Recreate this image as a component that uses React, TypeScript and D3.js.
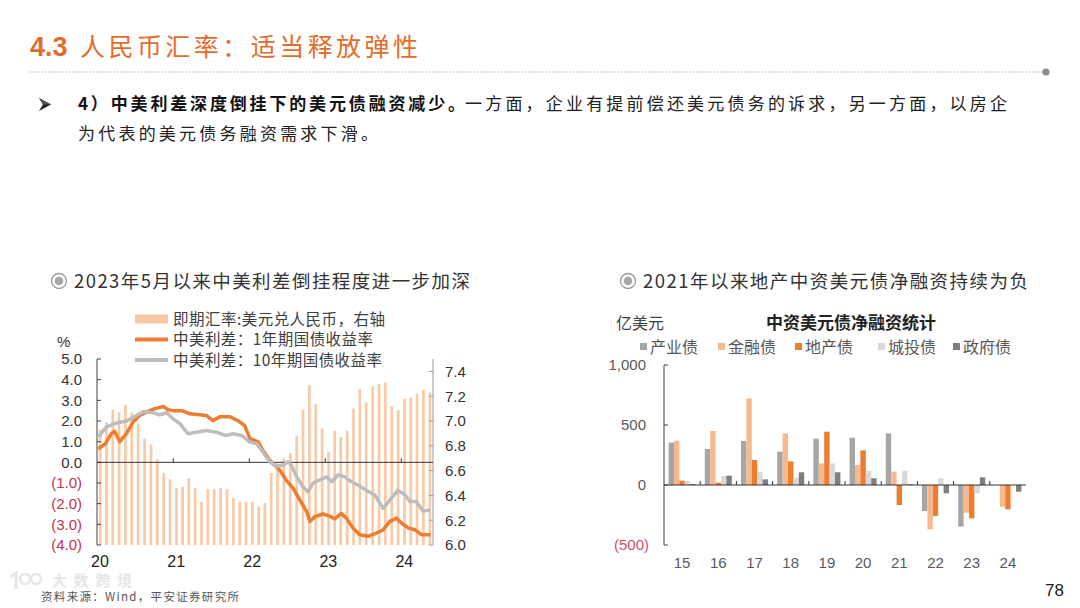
import * as d3 from 'd3';
import { useEffect, useRef } from 'react';

const cnFont = '"Noto Sans CJK SC", "Liberation Sans", sans-serif';
const numFont = '"Liberation Sans", Arial, "Noto Sans CJK SC", sans-serif';

// 即期汇率: monthly, Jan 2020 - May 2024 (right axis)
const fxStart = '2020-01-01';
const fxRate = [
  6.93, 6.99, 7.09, 7.07, 7.13, 7.07, 6.98, 6.86, 6.81, 6.69, 6.58, 6.53,
  6.46, 6.47, 6.54, 6.46, 6.35, 6.45, 6.45, 6.46, 6.45, 6.38, 6.35, 6.35,
  6.35, 6.31, 6.34, 6.58, 6.66, 6.7, 6.74, 6.88, 7.09, 7.29, 7.14, 6.94,
  6.75, 6.92, 6.87, 6.92, 7.1, 7.26, 7.15, 7.28, 7.3, 7.31, 7.12, 7.09,
  7.18, 7.19, 7.22, 7.25, 7.23,
];

// 中美利差：1年期国债收益率
const spread1yDates = [
  '2020-01-07', '2020-02-10', '2020-03-10', '2020-03-25', '2020-04-19', '2020-05-22', '2020-06-22',
  '2020-07-24', '2020-08-25', '2020-10-04', '2020-11-15', '2020-12-06', '2021-01-01', '2021-02-12',
  '2021-03-22', '2021-05-07', '2021-06-09', '2021-07-10', '2021-08-12', '2021-10-01', '2021-11-10',
  '2021-12-10', '2022-01-04', '2022-02-13', '2022-03-07', '2022-04-09', '2022-05-03', '2022-05-28',
  '2022-06-28', '2022-08-01', '2022-09-01', '2022-10-04', '2022-10-19', '2022-11-12', '2022-12-22',
  '2023-01-22', '2023-02-15', '2023-03-18', '2023-04-12', '2023-05-13', '2023-06-15', '2023-07-25',
  '2023-09-03', '2023-10-06', '2023-11-07', '2023-12-09', '2024-01-03', '2024-02-03', '2024-03-06',
  '2024-04-06', '2024-05-20',
];
const spread1yValues = [
  0.65, 0.9, 1.39, 1.5, 1.0, 1.4, 1.95,
  2.27, 2.43, 2.6, 2.7, 2.55, 2.5, 2.5,
  2.35, 2.3, 2.27, 2.02, 2.2, 2.2, 2.0,
  1.78, 1.15, 0.99, 0.58, 0.1, -0.14, -0.38,
  -0.87, -1.27, -1.83, -2.39, -2.86, -2.62, -2.5,
  -2.6, -2.74, -2.47, -2.7, -3.17, -3.5, -3.58,
  -3.42, -3.26, -2.86, -2.7, -2.95, -3.17, -3.26,
  -3.5, -3.5,
];

// 中美利差：10年期国债收益率
const spread10yDates = [
  '2020-01-07', '2020-02-15', '2020-04-03', '2020-05-22', '2020-07-09', '2020-08-09', '2020-09-27',
  '2020-10-28', '2020-12-01', '2021-01-01', '2021-02-03', '2021-03-13', '2021-04-22', '2021-06-09',
  '2021-07-28', '2021-09-06', '2021-10-16', '2021-11-25', '2022-01-04', '2022-02-06', '2022-03-07',
  '2022-04-09', '2022-05-10', '2022-06-12', '2022-07-06', '2022-07-22', '2022-08-16', '2022-09-16',
  '2022-10-10', '2022-11-03', '2022-12-06', '2023-01-07', '2023-02-01', '2023-03-04', '2023-04-04',
  '2023-05-06', '2023-06-07', '2023-07-16', '2023-08-25', '2023-10-06', '2023-11-07', '2023-12-16',
  '2024-01-18', '2024-02-12', '2024-03-13', '2024-04-15', '2024-05-20',
];
const spread10yValues = [
  1.23, 1.71, 1.9, 2.0, 2.27, 2.45, 2.4,
  2.3, 2.4, 2.1, 1.86, 1.38, 1.46, 1.54,
  1.46, 1.3, 1.38, 1.3, 0.98, 0.9, 0.5,
  0.03, -0.2, -0.13, 0.03, -0.13, -0.7, -1.18,
  -1.43, -1.0, -0.85, -0.7, -0.94, -0.6, -0.7,
  -0.94, -1.1, -1.35, -1.57, -2.23, -1.83, -1.35,
  -1.57, -1.9, -1.9, -2.37, -2.3,
];

const leftTicks = [5, 4, 3, 2, 1, 0, -1, -2, -3, -4];
const rightTicks = [7.4, 7.2, 7.0, 6.8, 6.6, 6.4, 6.2, 6.0];
const yearTicks = ['2020', '2021', '2022', '2023', '2024'];

const leftLegend = [
  { label: '即期汇率:美元兑人民币，右轴', kind: 'bar', color: '#f8c8a2', len: 212 },
  { label: '中美利差：1年期国债收益率', kind: 'line', color: '#ed7d31', len: 200 },
  { label: '中美利差：10年期国债收益率', kind: 'line', color: '#bdbdbd', len: 209 },
];

// 中资美元债净融资 (亿美元)
const bondYears = ['15', '16', '17', '18', '19', '20', '21', '22', '23', '24'];
const bondSeries = ['产业债', '金融债', '地产债', '城投债', '政府债'];
const bondColors = ['#a6a6a6', '#f6b98d', '#ed7d31', '#d9d9d9', '#7f7f7f'];
const industrialBond = [353, 300, 367, 278, 386, 394, 430, -217, -347, 0];
const financialBond = [369, 450, 722, 430, 180, 167, 111, -369, -231, -181];
const propertyBond = [36, 19, 208, 197, 444, 289, -167, -258, -278, -203];
const lgfvBond = [33, 75, 111, 61, 180, 117, 119, 56, -69, 0];
const govBond = [8, 78, 47, 106, 106, 56, 6, -69, 64, -56];
const bondTicks = [1000, 500, 0, -500];

export default function App() {
  const svgRef = useRef<SVGSVGElement>(null);

  useEffect(() => {
    const svgEl = svgRef.current;
    if (!svgEl) return;
    const svg = d3.select(svgEl);
    svg.selectAll('*').remove();

    svg.append('rect').attr('width', 1080).attr('height', 608).attr('fill', '#fff');

    // ---- slide header ----
    svg.append('text').attr('x', 30).attr('y', 56).attr('fill', '#e36c2a')
      .attr('font-family', numFont).attr('font-weight', 700).attr('font-size', 27).text('4.3');
    svg.append('text').attr('x', 80).attr('y', 56).attr('fill', '#e36c2a')
      .attr('font-family', cnFont).attr('font-size', 25)
      .attr('textLength', 338).attr('lengthAdjust', 'spacing')
      .text('人民币汇率：适当释放弹性');

    svg.append('line').attr('x1', 30).attr('x2', 1043).attr('y1', 72).attr('y2', 72)
      .attr('stroke', '#9a9a9a').attr('stroke-width', 1.2).attr('stroke-dasharray', '1.2,1.8');
    svg.append('circle').attr('cx', 1046).attr('cy', 72).attr('r', 3.6).attr('fill', '#8c8c8c');

    // bullet arrowhead
    svg.append('path').attr('d', 'M39,98 L51,104.5 L39,111 L43,104.5 Z').attr('fill', '#222');
    svg.append('path').attr('d', 'M39,98 L51,104.5 L43,104.5 Z').attr('fill', '#555');

    svg.append('text').attr('x', 78).attr('y', 110).attr('font-family', cnFont).attr('font-weight', 700)
      .attr('font-size', 17).attr('fill', '#111').attr('textLength', 387).attr('lengthAdjust', 'spacing')
      .text('4）中美利差深度倒挂下的美元债融资减少。');
    svg.append('text').attr('x', 465).attr('y', 110).attr('font-family', cnFont)
      .attr('font-size', 17).attr('fill', '#222').attr('textLength', 542).attr('lengthAdjust', 'spacing')
      .text('一方面，企业有提前偿还美元债务的诉求，另一方面，以房企');
    svg.append('text').attr('x', 78).attr('y', 140).attr('font-family', cnFont)
      .attr('font-size', 17).attr('fill', '#222').attr('textLength', 300).attr('lengthAdjust', 'spacing')
      .text('为代表的美元债务融资需求下滑。');

    // ---- chart titles ----
    const titleIcon = (cx: number, cy: number) => {
      svg.append('circle').attr('cx', cx).attr('cy', cy).attr('r', 7.5)
        .attr('fill', 'none').attr('stroke', '#9a9a9a').attr('stroke-width', 1.3);
      svg.append('circle').attr('cx', cx).attr('cy', cy).attr('r', 4.3).attr('fill', '#a6a6a6');
    };
    titleIcon(59, 281);
    svg.append('text').attr('x', 74).attr('y', 288).attr('font-family', cnFont).attr('font-size', 18.5)
      .attr('fill', '#333').attr('textLength', 396).attr('lengthAdjust', 'spacing')
      .text('2023年5月以来中美利差倒挂程度进一步加深');
    titleIcon(628, 281);
    svg.append('text').attr('x', 643).attr('y', 288).attr('font-family', cnFont).attr('font-size', 18.5)
      .attr('fill', '#333').attr('textLength', 385).attr('lengthAdjust', 'spacing')
      .text('2021年以来地产中资美元债净融资持续为负');

    // ---- left chart ----
    const parse = d3.timeParse('%Y-%m-%d');
    const start = parse(fxStart)!;
    const end = d3.timeMonth.offset(start, fxRate.length);
    const x = d3.scaleTime().domain([start, end]).range([97, 433]);
    const yL = d3.scaleLinear().domain([-4, 5]).range([545, 359]);
    const yR = d3.scaleLinear().domain([6.0, 7.5]).range([545, 359]);

    const months = d3.timeMonth.range(start, end);
    const fxData = months.map((m, i) => ({ m, v: fxRate[i] }));
    const barW = 2.7;
    svg.append('g').selectAll('rect').data(fxData).join('rect')
      .attr('x', (d) => (x(d.m) + x(d3.timeMonth.offset(d.m, 1))) / 2 - barW / 2)
      .attr('width', barW)
      .attr('y', (d) => yR(d.v))
      .attr('height', (d) => yR(6.0) - yR(d.v))
      .attr('fill', '#f8caa6');

    // left axis
    svg.append('line').attr('x1', 97).attr('x2', 97).attr('y1', yL(5)).attr('y2', yL(-4))
      .attr('stroke', '#404040').attr('stroke-width', 1);
    svg.append('g').selectAll('line').data(leftTicks).join('line')
      .attr('x1', 97).attr('x2', 101).attr('y1', (d) => yL(d)).attr('y2', (d) => yL(d))
      .attr('stroke', '#404040');
    svg.append('g').selectAll('text').data(leftTicks).join('text')
      .attr('x', 82).attr('y', (d) => yL(d)).attr('dy', '0.36em').attr('text-anchor', 'end')
      .attr('font-family', numFont).attr('font-size', 15)
      .attr('fill', (d) => (d < 0 ? '#c8324e' : '#333'))
      .text((d) => (d < 0 ? `(${Math.abs(d).toFixed(1)})` : d.toFixed(1)));
    svg.append('text').attr('x', 57).attr('y', 347).attr('font-family', numFont).attr('font-size', 15)
      .attr('fill', '#333').text('%');

    // right axis
    svg.append('line').attr('x1', 433).attr('x2', 433).attr('y1', yR(7.5)).attr('y2', yR(6.0))
      .attr('stroke', '#9a9a9a').attr('stroke-width', 1);
    svg.append('g').selectAll('line').data(rightTicks).join('line')
      .attr('x1', 429).attr('x2', 433).attr('y1', (d) => yR(d)).attr('y2', (d) => yR(d))
      .attr('stroke', '#9a9a9a');
    svg.append('g').selectAll('text').data(rightTicks).join('text')
      .attr('x', 445).attr('y', (d) => yR(d)).attr('dy', '0.36em')
      .attr('font-family', numFont).attr('font-size', 15).attr('fill', '#333')
      .text((d) => d.toFixed(1));

    // zero line + year ticks
    svg.append('line').attr('x1', 97).attr('x2', 433).attr('y1', yL(0)).attr('y2', yL(0))
      .attr('stroke', '#333').attr('stroke-width', 1);
    const years = yearTicks.map((y) => parse(`${y}-01-01`)!);
    svg.append('g').selectAll('line').data(years.slice(1)).join('line')
      .attr('x1', (d) => x(d)).attr('x2', (d) => x(d)).attr('y1', yL(0)).attr('y2', yL(0) - 4)
      .attr('stroke', '#333');
    svg.append('g').selectAll('text').data(years).join('text')
      .attr('x', (d) => x(d) + 3).attr('y', 567).attr('text-anchor', 'middle')
      .attr('font-family', numFont).attr('font-size', 16).attr('fill', '#222')
      .text((d) => d3.timeFormat('%y')(d));

    const line = d3.line<{ d: Date; v: number }>().x((p) => x(p.d)).y((p) => yL(p.v));
    const s1 = spread1yDates.map((d, i) => ({ d: parse(d)!, v: spread1yValues[i] }));
    const s10 = spread10yDates.map((d, i) => ({ d: parse(d)!, v: spread10yValues[i] }));
    svg.append('path').datum(s1).attr('d', line).attr('fill', 'none')
      .attr('stroke', '#ed7d31').attr('stroke-width', 3.5).attr('stroke-linejoin', 'round');
    svg.append('path').datum(s10).attr('d', line).attr('fill', 'none')
      .attr('stroke', '#bdbdbd').attr('stroke-width', 3.5).attr('stroke-linejoin', 'round');

    // left legend
    const lg = svg.append('g');
    leftLegend.forEach((item, i) => {
      const cy = 319 + i * 20.5;
      if (item.kind === 'bar') {
        lg.append('rect').attr('x', 135).attr('y', cy - 4.5).attr('width', 33).attr('height', 9).attr('fill', item.color);
      } else {
        lg.append('line').attr('x1', 135).attr('x2', 168).attr('y1', cy).attr('y2', cy)
          .attr('stroke', item.color).attr('stroke-width', 4);
      }
      lg.append('text').attr('x', 173).attr('y', cy).attr('dy', '0.36em')
        .attr('font-family', cnFont).attr('font-size', 15.5).attr('fill', '#404040')
        .attr('textLength', item.len).attr('lengthAdjust', 'spacing').text(item.label);
    });

    // ---- right chart ----
    const values = [industrialBond, financialBond, propertyBond, lgfvBond, govBond];
    const x0 = d3.scaleBand<string>().domain(bondYears).range([664, 1026]);
    const x1 = d3.scaleBand<string>().domain(bondSeries).range([0, x0.bandwidth()]).paddingOuter(0.85);
    const yB = d3.scaleLinear().domain([-500, 1000]).range([545, 365]);

    const bars = bondYears.flatMap((yr, i) =>
      bondSeries.map((s, j) => ({ yr, s, v: values[j][i], c: bondColors[j] })),
    );
    svg.append('g').selectAll('rect').data(bars).join('rect')
      .attr('x', (d) => x0(d.yr)! + x1(d.s)!)
      .attr('width', x1.bandwidth())
      .attr('y', (d) => yB(Math.max(0, d.v)))
      .attr('height', (d) => Math.abs(yB(d.v) - yB(0)))
      .attr('fill', (d) => d.c);

    svg.append('line').attr('x1', 664).attr('x2', 664).attr('y1', yB(1000)).attr('y2', yB(-500))
      .attr('stroke', '#404040');
    svg.append('g').selectAll('line').data(bondTicks).join('line')
      .attr('x1', 664).attr('x2', 668).attr('y1', (d) => yB(d)).attr('y2', (d) => yB(d))
      .attr('stroke', '#404040');
    svg.append('g').selectAll('text').data(bondTicks).join('text')
      .attr('x', (d) => (d < 0 ? 649 : 646)).attr('y', (d) => yB(d)).attr('dy', '0.36em').attr('text-anchor', 'end')
      .attr('font-family', numFont).attr('font-size', 15)
      .attr('fill', (d) => (d < 0 ? '#d4506a' : '#595959'))
      .text((d) => (d < 0 ? `(${d3.format(',')(-d)})` : d3.format(',')(d)));

    svg.append('line').attr('x1', 664).attr('x2', 1026).attr('y1', yB(0)).attr('y2', yB(0))
      .attr('stroke', '#333');
    svg.append('g').selectAll('line').data(bondYears.slice(1)).join('line')
      .attr('x1', (d) => x0(d)!).attr('x2', (d) => x0(d)!).attr('y1', yB(0)).attr('y2', yB(0) - 4)
      .attr('stroke', '#333');
    svg.append('g').selectAll('text').data(bondYears).join('text')
      .attr('x', (d) => x0(d)! + x0.bandwidth() / 2).attr('y', 568).attr('text-anchor', 'middle')
      .attr('font-family', numFont).attr('font-size', 15).attr('fill', '#595959')
      .text((d) => d);

    svg.append('text').attr('x', 616).attr('y', 323).attr('dy', '0.36em')
      .attr('font-family', cnFont).attr('font-size', 16).attr('fill', '#404040').text('亿美元');
    svg.append('text').attr('x', 851).attr('y', 323).attr('dy', '0.36em').attr('text-anchor', 'middle')
      .attr('font-family', cnFont).attr('font-size', 17).attr('font-weight', 700).attr('fill', '#222')
      .text('中资美元债净融资统计');

    const legendX = [640, 718, 795, 878, 953];
    bondSeries.forEach((s, j) => {
      svg.append('rect').attr('x', legendX[j]).attr('y', 343).attr('width', 7).attr('height', 7).attr('fill', bondColors[j]);
      svg.append('text').attr('x', legendX[j] + 10).attr('y', 347).attr('dy', '0.36em')
        .attr('font-family', cnFont).attr('font-size', 16).attr('fill', '#595959').text(s);
    });

    // ---- footer ----
    const wm = svg.append('g').attr('opacity', 0.85);
    wm.append('path').attr('d', 'M10,577 L16,573 L16,589').attr('fill', 'none')
      .attr('stroke', '#e2e2e2').attr('stroke-width', 3);
    wm.append('circle').attr('cx', 25).attr('cy', 579).attr('r', 5).attr('fill', 'none')
      .attr('stroke', '#e2e2e2').attr('stroke-width', 2.5);
    wm.append('circle').attr('cx', 36).attr('cy', 579).attr('r', 5).attr('fill', 'none')
      .attr('stroke', '#e2e2e2').attr('stroke-width', 2.5);
    wm.append('text').attr('x', 52).attr('y', 586).attr('font-family', cnFont).attr('font-size', 14.5)
      .attr('font-weight', 700).attr('fill', '#e2e2e2').attr('textLength', 80).attr('lengthAdjust', 'spacing')
      .text('大数跨境');
    svg.append('text').attr('x', 41).attr('y', 601).attr('font-family', cnFont).attr('font-size', 11.5)
      .attr('fill', '#555').attr('textLength', 198).attr('lengthAdjust', 'spacing')
      .text('资料来源：Wind，平安证券研究所');
    svg.append('text').attr('x', 1045).attr('y', 596).attr('font-family', numFont).attr('font-size', 17)
      .attr('fill', '#222').text('78');
  }, []);

  return (
    <div style={{ position: 'absolute', left: 0, top: 0 }}>
      <svg ref={svgRef} width={1080} height={608} role="img" aria-label="中美利差与中资美元债净融资" />
    </div>
  );
}
